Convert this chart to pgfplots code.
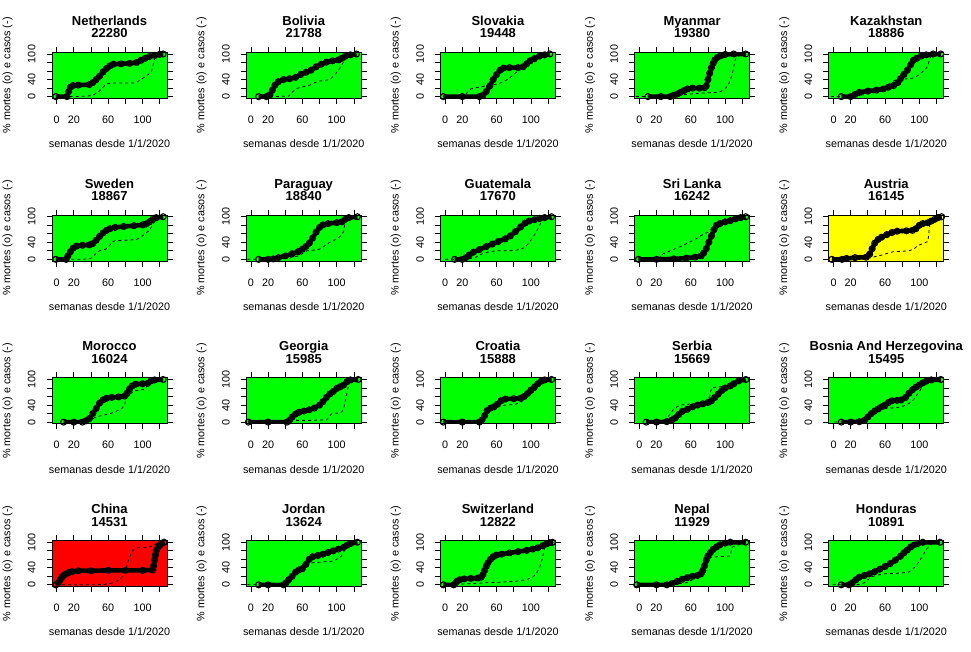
\documentclass[border=0pt]{standalone}
\usepackage{fontspec}
\setmainfont{Liberation Sans}
\usepackage{pgfplots}
\pgfplotsset{compat=1.18}
\definecolor{rgreen}{RGB}{0,255,0}
\definecolor{ryellow}{RGB}{255,255,0}
\definecolor{rred}{RGB}{255,0,0}
\pgfplotsset{
  panel/.style={
    scale only axis, width=115pt, height=46pt,
    xmin=-5.5, xmax=128.5, ymin=-4, ymax=104,
    xtick={0,20,40,60,80,100,120}, xticklabels={0,20,,60,,100,},
    ytick={0,20,40,60,80,100}, yticklabels={0,,40,,,100},
    tick align=outside, major tick length=5.5pt,
    tick style={black, line width=0.8pt},
    axis line style={black, line width=0.9pt},
    ticklabel style={font=\fontsize{10.8}{12}\selectfont},
    xticklabel style={yshift=-8.5pt},
    yticklabel style={xshift=-7.5pt, rotate=90, anchor=south},
    xlabel={semanas desde 1/1/2020},
    ylabel={\% mortes (o) e casos (-)},
    label style={font=\fontsize{10.8}{12}\selectfont},
    xlabel style={at={(axis description cs:0.5,-0.99)}, anchor=center},
    ylabel style={at={(axis description cs:-0.387,0.5)}, anchor=center, rotate=0},
    title style={at={(axis description cs:0.5,1)}, anchor=south, yshift=8pt,
      align=center, inner sep=0pt, font=\fontsize{13}{12.5}\selectfont\bfseries},
  },
  deaths/.style={black, line width=4.6pt, line join=round, mark=o, mark size=3pt,
    mark options={line width=1.1pt, solid}},
  cases/.style={black, line width=0.8pt, dash pattern=on 3pt off 3pt, mark=none},
}
\newcommand{\panel}[6]{%
  \begin{axis}[panel, at={(#1)}, title={#2\\#3}, axis background/.style={fill=#4}]
    \addplot[deaths] coordinates {#5};
    \addplot[cases] coordinates {#6};
  \end{axis}}
\begin{document}
\begin{tikzpicture}
\useasboundingbox (0,0) rectangle (971pt,651pt);
% Row 1
\panel{52pt,552.7pt}{Netherlands}{22280}{rgreen}
{(-1,0)(12,0)(14,12)(16,22)(19,26)(25,27)(38,28)(42,33)(46,40)(50,48)(54,58)(58,66)(62,72)(66,76)(75,77)(85,78)(93,80)(98,85)(103,90)(108,94)(114,97)(120,99)(124,100)}
{(8,0)(20,0)(35,1)(42,3)(48,10)(54,22)(58,30)(65,32)(80,32)(92,32)(98,40)(104,48)(110,57)(112,70)(114,88)(118,93)(124,100)}
\panel{246.2pt,552.7pt}{Bolivia}{21788}{rgreen}
{(9,0)(18,0)(22,4)(25,15)(28,27)(32,35)(38,40)(45,42)(52,45)(58,52)(64,57)(70,62)(76,70)(82,76)(88,81)(95,84)(102,86)(106,90)(110,95)(116,98)(123,100)}
{(22,0)(44,1)(48,10)(52,18)(58,22)(66,25)(72,30)(78,36)(86,38)(92,40)(98,52)(102,62)(106,75)(110,88)(116,97)(123,100)}
\panel{440.4pt,552.7pt}{Slovakia}{19448}{rgreen}
{(-2,0)(20,0)(40,0)(44,3)(48,12)(52,25)(56,40)(60,52)(64,62)(68,67)(75,68)(85,68)(91,70)(95,77)(99,84)(104,89)(110,95)(116,98)(122,100)}
{(-2,0)(22,0)(26,10)(30,18)(36,21)(44,24)(50,26)(56,28)(62,30)(68,35)(74,42)(80,52)(86,62)(92,70)(98,80)(104,88)(110,94)(116,98)(122,100)}
\panel{634.6pt,552.7pt}{Myanmar}{19380}{rgreen}
{(10,0)(25,0)(36,0)(40,3)(44,6)(48,10)(52,14)(56,18)(62,20)(70,20)(76,21)(78,25)(80,40)(82,55)(84,68)(86,78)(88,86)(91,92)(95,96)(100,99)(110,100)(124,100)}
{(-4,0)(5,0)(20,1)(40,2)(50,4)(60,6)(70,8)(80,9)(90,10)(96,13)(100,18)(104,30)(108,50)(110,70)(112,88)(115,95)(124,100)}
\panel{828.8pt,552.7pt}{Kazakhstan}{18886}{rgreen}
{(9,0)(20,0)(25,5)(30,10)(40,13)(50,15)(58,18)(64,22)(70,26)(75,33)(78,42)(82,52)(86,62)(90,75)(93,85)(97,90)(102,95)(108,98)(116,100)(125,100)}
{(-3,0)(5,0)(20,1)(30,3)(40,6)(50,10)(58,16)(64,28)(68,35)(74,40)(80,41)(88,42)(94,44)(100,52)(106,62)(110,72)(112,90)(115,98)(125,100)}
% Row 2
\panel{52pt,389.95pt}{Sweden}{18867}{rgreen}
{(-1,0)(11,0)(13,8)(16,18)(19,26)(23,31)(30,33)(38,34)(42,37)(46,45)(50,54)(54,62)(58,68)(62,72)(68,75)(78,77)(90,79)(100,81)(104,83)(108,88)(112,94)(116,98)(124,100)}
{(10,0)(25,0)(38,1)(42,5)(46,15)(50,20)(56,23)(60,28)(64,40)(68,44)(80,45)(92,46)(98,52)(104,62)(108,68)(112,82)(116,95)(124,100)}
\panel{246.2pt,389.95pt}{Paraguay}{18840}{rgreen}
{(9,0)(20,0)(26,1)(32,4)(40,8)(48,13)(55,18)(60,24)(64,30)(68,38)(72,50)(76,64)(80,75)(84,81)(90,84)(100,86)(106,88)(110,94)(114,98)(124,100)}
{(-4,0)(5,0)(20,0)(35,1)(45,3)(55,8)(60,14)(65,20)(75,22)(80,24)(86,32)(92,40)(98,46)(104,54)(108,65)(110,90)(114,96)(124,100)}
\panel{440.4pt,389.95pt}{Guatemala}{17670}{rgreen}
{(11,0)(20,0)(24,4)(28,10)(33,17)(40,23)(48,30)(55,36)(62,42)(70,48)(76,55)(82,65)(88,76)(93,85)(98,90)(104,93)(110,96)(116,98)(124,100)}
{(0,0)(12,0)(22,0)(30,2)(36,5)(42,12)(48,16)(54,19)(62,20)(72,20)(80,21)(88,23)(94,30)(100,45)(105,60)(109,75)(113,92)(117,98)(124,100)}
\panel{634.6pt,389.95pt}{Sri Lanka}{16242}{rgreen}
{(-1,0)(20,0)(40,1)(55,3)(65,5)(72,8)(75,15)(78,25)(81,40)(84,55)(87,70)(90,80)(94,84)(100,88)(106,91)(112,95)(118,98)(124,100)}
{(24,0)(25,10)(30,15)(36,20)(42,25)(48,30)(54,36)(60,42)(66,48)(72,56)(78,62)(84,66)(88,72)(92,82)(98,88)(106,92)(112,96)(118,98)(124,100)}
\panel{828.8pt,389.95pt}{Austria}{16145}{ryellow}
{(-2,0)(10,0)(15,2)(25,4)(38,5)(42,12)(45,25)(48,38)(52,47)(56,52)(62,58)(68,63)(74,66)(85,67)(92,68)(96,72)(100,80)(104,84)(110,86)(114,90)(118,94)(122,98)(126,100)}
{(-2,0)(20,0)(38,1)(44,4)(50,7)(58,11)(64,15)(70,18)(80,19)(88,20)(94,25)(98,32)(104,37)(110,42)(111,60)(112,84)(118,93)(126,100)}
% Row 3
\panel{52pt,227.2pt}{Morocco}{16024}{rgreen}
{(8,0)(20,0)(30,0)(34,3)(38,8)(42,20)(46,32)(50,45)(54,52)(58,56)(64,58)(72,59)(79,61)(82,68)(85,78)(88,85)(92,89)(100,90)(106,91)(110,97)(114,99)(124,100)}
{(8,0)(25,0)(35,2)(40,6)(46,12)(52,15)(58,18)(64,21)(70,26)(76,32)(79,40)(81,55)(84,63)(88,70)(92,74)(100,76)(104,80)(108,95)(112,99)(124,100)}
\panel{246.2pt,227.2pt}{Georgia}{15985}{rgreen}
{(-3,0)(20,0)(42,0)(45,4)(48,12)(52,19)(56,23)(62,26)(68,29)(74,33)(80,40)(84,48)(88,58)(92,66)(96,72)(100,79)(104,83)(108,87)(112,95)(116,99)(125,100)}
{(-3,0)(20,0)(42,0)(46,2)(50,4)(60,4)(70,4)(80,5)(88,5)(91,12)(94,20)(100,21)(105,22)(108,30)(111,60)(114,90)(117,98)(125,100)}
\panel{440.4pt,227.2pt}{Croatia}{15888}{rgreen}
{(-2,0)(20,0)(40,0)(43,5)(46,15)(49,27)(53,33)(57,36)(61,42)(65,50)(70,54)(80,55)(88,56)(92,60)(96,67)(100,75)(104,82)(108,90)(112,96)(116,99)(124,100)}
{(-2,0)(20,0)(40,0)(44,5)(48,18)(52,25)(56,30)(62,36)(70,40)(80,41)(88,46)(94,56)(100,66)(106,76)(110,88)(114,96)(118,99)(124,100)}
\panel{634.6pt,227.2pt}{Serbia}{15669}{rgreen}
{(8,0)(20,0)(32,1)(38,5)(42,10)(46,18)(50,25)(56,30)(62,36)(68,40)(74,43)(80,46)(84,50)(88,58)(92,66)(96,74)(100,80)(106,85)(110,90)(116,97)(124,100)}
{(8,0)(20,0)(28,2)(32,8)(36,20)(40,30)(44,36)(48,40)(56,42)(64,43)(72,44)(78,48)(82,60)(84,80)(88,82)(96,83)(100,84)(106,88)(110,92)(116,97)(124,100)}
\panel{828.8pt,227.2pt}{Bosnia And Herzegovina}{15495}{rgreen}
{(9,0)(20,0)(30,1)(36,4)(40,12)(44,20)(48,26)(52,31)(56,36)(60,40)(64,46)(68,50)(74,51)(79,52)(84,58)(88,68)(92,76)(96,82)(100,87)(104,92)(108,96)(114,99)(125,100)}
{(1,0)(8,0)(20,0)(32,1)(38,6)(42,15)(46,22)(52,28)(58,31)(66,33)(74,34)(82,38)(88,44)(92,50)(96,60)(100,72)(104,84)(108,92)(112,97)(118,99)(125,100)}
% Row 4
\panel{52pt,64.45pt}{China}{14531}{rred}
{(-1,0)(2,5)(4,12)(6,18)(8,22)(11,26)(14,29)(18,31)(25,33)(40,33)(60,34)(80,34)(100,34)(112,35)(113,45)(114,58)(115,70)(116,80)(118,88)(120,93)(122,97)(125,100)}
{(-1,0)(20,0)(40,0)(55,1)(62,3)(68,7)(74,13)(78,25)(81,40)(84,60)(87,75)(90,84)(95,87)(105,88)(110,90)(114,95)(118,98)(125,100)}
\panel{246.2pt,64.45pt}{Jordan}{13624}{rgreen}
{(9,0)(20,0)(38,0)(41,5)(44,12)(48,20)(52,30)(56,35)(60,38)(64,48)(68,60)(72,66)(78,69)(84,72)(90,76)(96,80)(102,84)(108,88)(112,93)(116,97)(124,100)}
{(-4,0)(5,0)(20,0)(38,0)(42,4)(46,12)(50,20)(54,26)(58,32)(62,40)(66,48)(72,52)(80,53)(90,55)(96,56)(100,60)(104,64)(108,76)(110,86)(114,92)(118,97)(124,100)}
\panel{440.4pt,64.45pt}{Switzerland}{12822}{rgreen}
{(-2,0)(10,0)(12,4)(14,9)(17,12)(22,14)(30,15)(38,16)(42,18)(44,24)(46,34)(48,44)(50,52)(53,60)(56,66)(60,70)(66,72)(75,75)(85,78)(95,81)(102,84)(108,87)(114,92)(118,96)(122,99)(125,100)}
{(-2,0)(15,0)(20,2)(30,3)(40,4)(50,5)(60,6)(70,7)(80,8)(88,10)(96,13)(102,18)(106,26)(110,40)(113,60)(116,88)(120,96)(125,100)}
\panel{634.6pt,64.45pt}{Nepal}{11929}{rgreen}
{(-3,0)(20,0)(32,0)(38,3)(44,8)(50,13)(56,17)(62,20)(68,22)(72,26)(74,34)(76,45)(78,58)(80,68)(83,76)(86,83)(90,89)(94,94)(100,98)(106,100)(124,100)}
{(-3,0)(20,0)(40,1)(55,5)(62,12)(68,22)(72,32)(76,45)(80,60)(84,65)(92,66)(100,67)(106,68)(108,88)(112,92)(118,95)(124,100)}
\panel{828.8pt,64.45pt}{Honduras}{10891}{rgreen}
{(9,0)(18,0)(22,5)(26,12)(30,18)(36,22)(42,26)(48,31)(54,37)(60,43)(66,50)(72,58)(78,67)(82,75)(86,82)(90,89)(94,94)(98,97)(104,100)(124,100)}
{(-1,0)(5,0)(20,0)(30,1)(36,5)(40,12)(46,20)(52,23)(60,26)(70,27)(80,28)(88,30)(94,40)(98,50)(102,62)(106,76)(110,88)(114,96)(124,100)}
\end{tikzpicture}
\end{document}
